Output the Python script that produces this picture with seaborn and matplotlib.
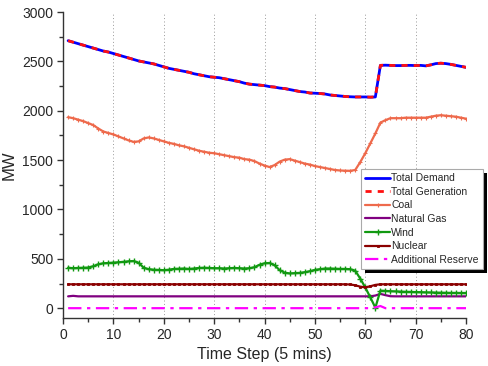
import numpy as np
import pandas as pd
import matplotlib
matplotlib.use("Agg")
import matplotlib.pyplot as plt
import seaborn as sns
from matplotlib.ticker import MultipleLocator
from matplotlib.patches import Rectangle
from matplotlib.transforms import IdentityTransform

# ============================================================
# DATA
# ============================================================

time_step = list(range(1, 81))

total_demand = [
    2710, 2695, 2680, 2665, 2650, 2635, 2620, 2605, 2595, 2580,
    2565, 2550, 2535, 2520, 2505, 2495, 2485, 2475, 2460, 2445,
    2430, 2420, 2410, 2400, 2390, 2375, 2365, 2355, 2345, 2340,
    2335, 2325, 2315, 2305, 2295, 2280, 2270, 2265, 2260, 2255,
    2245, 2240, 2230, 2225, 2215, 2205, 2195, 2190, 2180, 2178,
    2175, 2170, 2160, 2155, 2150, 2145, 2142, 2140, 2140, 2140,
    2138, 2140, 2460, 2462, 2460, 2458, 2458, 2460, 2460, 2458,
    2460, 2455, 2465, 2478, 2482, 2478, 2470, 2460, 2450, 2440,
]

total_generation = [
    2710, 2695, 2680, 2665, 2650, 2635, 2620, 2605, 2595, 2580,
    2565, 2550, 2535, 2520, 2505, 2495, 2485, 2475, 2460, 2445,
    2430, 2420, 2410, 2400, 2390, 2375, 2365, 2355, 2345, 2340,
    2335, 2325, 2315, 2305, 2295, 2280, 2270, 2265, 2260, 2255,
    2245, 2240, 2230, 2225, 2215, 2205, 2195, 2190, 2180, 2178,
    2175, 2170, 2160, 2155, 2150, 2145, 2142, 2140, 2140, 2140,
    2138, 2140, 2460, 2462, 2460, 2458, 2458, 2460, 2460, 2458,
    2460, 2455, 2465, 2478, 2482, 2478, 2470, 2460, 2450, 2440,
]

coal = [
    1935, 1925, 1910, 1895, 1875, 1855, 1820, 1790, 1775, 1760,
    1740, 1720, 1700, 1685, 1690, 1720, 1730, 1720, 1705, 1690,
    1675, 1665, 1650, 1640, 1625, 1610, 1595, 1585, 1575, 1570,
    1560, 1550, 1540, 1530, 1525, 1510, 1505, 1490, 1465, 1445,
    1430, 1450, 1485, 1505, 1510, 1495, 1480, 1465, 1455, 1440,
    1430, 1420, 1410, 1400, 1395, 1393, 1392, 1400, 1480, 1570,
    1670, 1770, 1880, 1905, 1925, 1925, 1925, 1930, 1930, 1930,
    1930, 1930, 1940, 1950, 1955, 1950, 1945, 1940, 1930, 1920,
]

natural_gas = [
    120, 125, 120, 120, 120, 120, 120, 120, 120, 120,
    120, 120, 120, 120, 120, 120, 120, 120, 120, 120,
    120, 120, 120, 120, 120, 120, 120, 120, 120, 120,
    120, 120, 120, 120, 120, 120, 120, 120, 120, 120,
    120, 120, 120, 120, 120, 120, 120, 120, 120, 120,
    120, 120, 120, 120, 120, 120, 120, 120, 120, 120,
    120, 128, 145, 132, 121, 120, 120, 120, 120, 120,
    120, 120, 120, 120, 120, 120, 120, 120, 120, 120,
]

wind = [
    410, 405, 408, 410, 412, 425, 445, 455, 458, 462,
    465, 470, 475, 478, 460, 410, 395, 390, 388, 385,
    390, 398, 400, 402, 398, 402, 408, 410, 408, 405,
    405, 402, 405, 408, 405, 402, 405, 415, 440, 455,
    458, 435, 385, 360, 352, 355, 358, 365, 375, 388,
    395, 402, 402, 400, 398, 398, 395, 380, 300, 210,
    110, 5, 178, 175, 172, 170, 168, 166, 165, 163,
    162, 160, 159, 158, 157, 156, 155, 155, 154, 154,
]

nuclear = [
    242, 242, 242, 242, 242, 242, 242, 242, 242, 242,
    242, 242, 242, 242, 242, 242, 242, 242, 242, 242,
    242, 242, 242, 242, 242, 242, 242, 242, 242, 242,
    242, 242, 242, 242, 242, 242, 242, 242, 242, 242,
    242, 242, 242, 242, 242, 242, 242, 242, 242, 242,
    242, 242, 242, 242, 242, 242, 240, 232, 218, 212,
    222, 236, 242, 242, 242, 242, 242, 242, 242, 242,
    242, 242, 242, 242, 242, 242, 242, 242, 242, 242,
]

additional_reserve = [
    0, 0, 0, 0, 0, 0, 0, 0, 0, 0,
    0, 0, 0, 0, 0, 0, 0, 0, 0, 0,
    0, 0, 0, 0, 0, 0, 0, 0, 0, 0,
    0, 0, 0, 0, 0, 0, 0, 0, 0, 0,
    0, 0, 0, 0, 0, 0, 0, 0, 0, 0,
    0, 0, 0, 0, 0, 0, 0, 0, 0, 0,
    0, 8, 22, 0, 0, 0, 0, 0, 0, 0,
    0, 0, 0, 0, 0, 0, 0, 0, 0, 0,
]

df = pd.DataFrame({
    "Time Step": time_step,
    "Total Demand": total_demand,
    "Total Generation": total_generation,
    "Coal": coal,
    "Natural Gas": natural_gas,
    "Wind": wind,
    "Nuclear": nuclear,
    "Additional Reserve": additional_reserve,
})

# ============================================================
# STYLE
# ============================================================

sns.set_style("ticks")
plt.rcParams['font.family'] = ['Liberation Sans', 'DejaVu Sans']

series_style = {
    "Total Demand":       dict(color="#0000ff", linewidth=2.0, linestyle="-"),
    "Total Generation":   dict(color="#ff1010", linewidth=2.0, linestyle=(0, (2.2, 2.2))),
    "Coal":               dict(color="#ee6a4c", linewidth=1.6, linestyle="-",
                               marker="+", markersize=3, markeredgewidth=0.8,
                               markeredgecolor="#ee6a4c"),
    "Natural Gas":        dict(color="#800080", linewidth=1.6, linestyle="-"),
    "Wind":               dict(color="#119911", linewidth=1.6, linestyle="-",
                               marker="+", markersize=4, markeredgewidth=1.0,
                               markeredgecolor="#119911"),
    "Nuclear":            dict(color="#8b0000", linewidth=1.6, linestyle="-",
                               marker="s", markersize=1.6, markeredgewidth=0.6,
                               markeredgecolor="#8b0000"),
    "Additional Reserve": dict(color="#ff00ff", linewidth=1.6, linestyle=(0, (6, 2.5, 1.5, 2.5))),
}

# ============================================================
# PLOT
# ============================================================

fig = plt.figure(figsize=(4.89, 3.66), dpi=100)
ax = fig.add_axes([0.129, 0.131, 0.824, 0.836])

for x in range(10, 80, 10):
    ax.axvline(x, color="#999999", lw=0.7, ls=(0, (1, 2.5)), zorder=0)

for name, st in series_style.items():
    sns.lineplot(data=df, x="Time Step", y=name, ax=ax, label=name, **st)

ax.set_xlim(0, 80)
ax.set_ylim(-100, 3000)
ax.xaxis.set_major_locator(MultipleLocator(10))
ax.xaxis.set_minor_locator(MultipleLocator(5))
ax.yaxis.set_major_locator(MultipleLocator(500))
ax.yaxis.set_minor_locator(MultipleLocator(250))
ax.tick_params(which="major", length=4.5, width=1, labelsize=10, color="#333333", pad=2.5)
ax.tick_params(which="minor", length=3, width=1, color="#333333")

for side in ["top", "right"]:
    ax.spines[side].set_visible(False)
for side in ["left", "bottom"]:
    ax.spines[side].set_color("#333333")
    ax.spines[side].set_linewidth(1.0)

ax.set_xlabel("Time Step (5 mins)", fontsize=11.5, labelpad=4)
ax.set_ylabel("MW", fontsize=12)

leg = ax.legend(
    loc="upper left",
    bbox_to_anchor=(361 / 489, 1 - 169 / 366),
    bbox_transform=fig.transFigure,
    fontsize=7.5,
    handlelength=2.4,
    handletextpad=0.1,
    labelspacing=0.35,
    borderpad=0.4,
    borderaxespad=0,
    fancybox=False,
    framealpha=1,
    edgecolor="#aaaaaa",
)
leg.get_frame().set_linewidth(0.8)
leg.set_zorder(6)

# black drop shadow behind the legend box
fig.canvas.draw()
bb = leg.get_window_extent()
shadow = Rectangle((bb.x0 + 4, bb.y0 - 4), bb.width, bb.height,
                   transform=IdentityTransform(), facecolor="black",
                   edgecolor="none", zorder=5.5, clip_on=False)
ax.add_patch(shadow)

fig.savefig("out.png", dpi=100)
